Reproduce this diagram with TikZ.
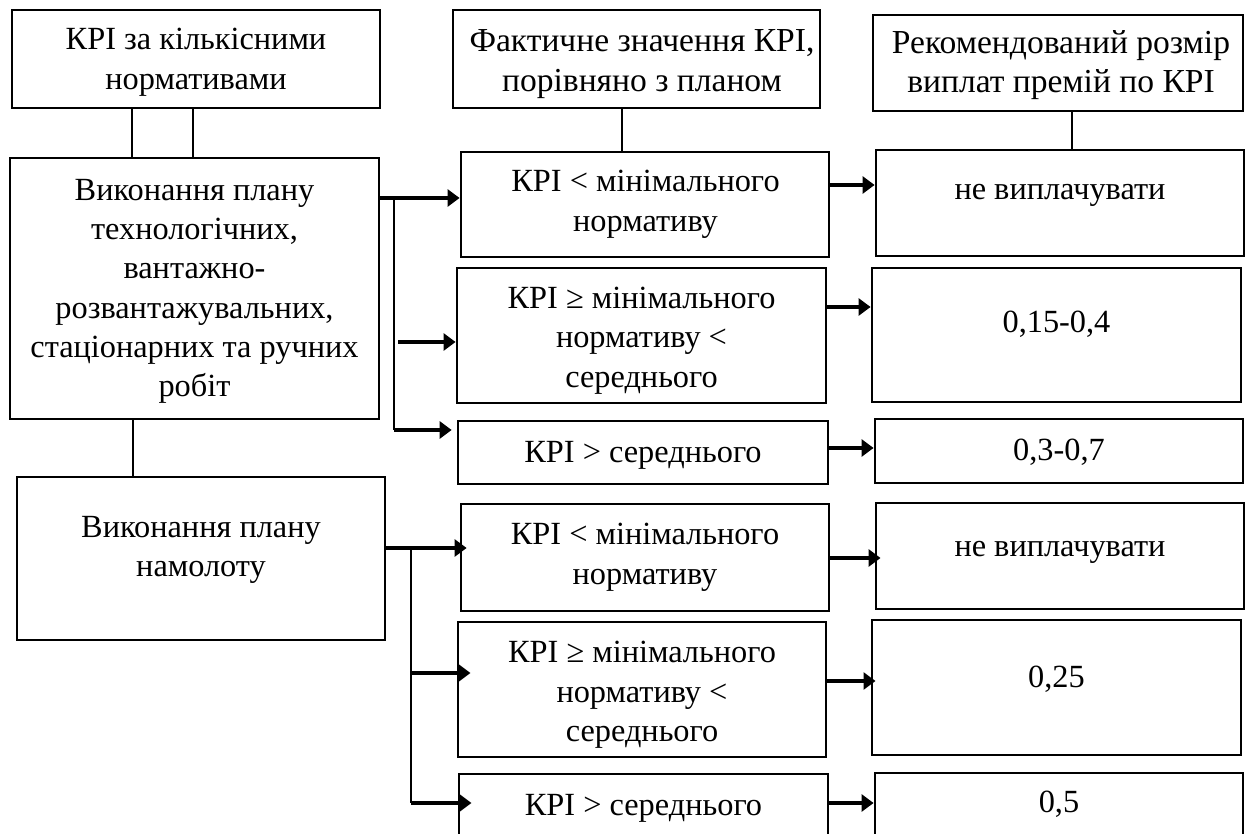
\documentclass[tikz,border=0pt]{standalone}
\usepackage{fontspec}
\setmainfont{Liberation Serif}
\usetikzlibrary{arrows.meta}
\newlength\pxu
\setlength\pxu{0.02cm}
\begin{document}
\begin{tikzpicture}[x=0.02cm,y=-0.02cm,
  box/.style={draw, line width=1.6pt, inner sep=0pt},
  txt/.style={align=center, inner sep=0pt, font=\fontsize{18.4}{22.4}\selectfont},
  hdr/.style={align=center, inner sep=0pt, font=\fontsize{19.1}{22.4}\selectfont},
  conn/.style={line width=0.7pt},
  arr/.style={line width=2.4pt, -{Triangle[length=6.8pt,width=9.6pt]}}]
\useasboundingbox (0,0) rectangle (1248,834);
\clip (0,0) rectangle (1248,834);
\fill[white] (0,0) rectangle (1248,834);

% header row
\node[box, minimum width=368\pxu, minimum height=98\pxu] (A) at (196,59) {};
\node[box, minimum width=367\pxu, minimum height=98\pxu] (D) at (636.5,59) {};
\node[box, minimum width=370\pxu, minimum height=96\pxu] (E) at (1058,63) {};
\node[txt] (tA) at (196,62.2) {КРІ за кількісними\\нормативами};
\node[hdr] (tD) at (642,64.2) {Фактичне значення КРІ,\\порівняно з планом};
\node[hdr] (tE) at (1061,64.9) {Рекомендований розмір\\виплат премій по КРІ};

% left column
\node[box, minimum width=369\pxu, minimum height=261\pxu] (B) at (194.5,288.5) {};
\node[box, minimum width=368\pxu, minimum height=163\pxu] (C) at (201,558.5) {};
\node[txt] (tB) at (194.5,291.3) {Виконання плану\\технологічних,\\вантажно-\\розвантажувальних,\\стаціонарних та ручних\\робіт};
\node[txt] (tC) at (201,549.7) {Виконання плану\\намолоту};

% middle column
\node[box, minimum width=368\pxu, minimum height=105\pxu] (F1) at (645,204.5) {};
\node[box, minimum width=369\pxu, minimum height=135\pxu] (F2) at (641.5,335.5) {};
\node[box, minimum width=370\pxu, minimum height=63\pxu] (F3) at (643,452.5) {};
\node[box, minimum width=368\pxu, minimum height=107\pxu] (F4) at (645,557.5) {};
\node[box, minimum width=368\pxu, minimum height=135\pxu] (F5) at (642,689.5) {};
\node[box, minimum width=369\pxu, minimum height=66\pxu] (F6) at (643.5,807) {};
\node[txt] (tF1) at (645.5,204.4) {КРІ < мінімального\\нормативу};
\node[txt] (tF2) at (641.5,340.4) {КРІ ≥ мінімального\\нормативу <\\середнього};
\node[txt, anchor=base] (tF3) at (643,462) {КРІ > середнього};
\node[txt] (tF4) at (645,557.4) {КРІ < мінімального\\нормативу};
\node[txt] (tF5) at (642,694.9) {КРІ ≥ мінімального\\нормативу <\\середнього};
\node[txt, anchor=base] (tF6) at (643.5,815) {КРІ > середнього};

% right column
\node[box, minimum width=368\pxu, minimum height=106\pxu] (G1) at (1060,203) {};
\node[box, minimum width=369\pxu, minimum height=134\pxu] (G2) at (1056.5,335) {};
\node[box, minimum width=368\pxu, minimum height=64\pxu] (G3) at (1059,451) {};
\node[box, minimum width=368\pxu, minimum height=106\pxu] (G4) at (1060,556) {};
\node[box, minimum width=369\pxu, minimum height=135\pxu] (G5) at (1056.5,687.5) {};
\node[box, minimum width=368\pxu, minimum height=67\pxu] (G6) at (1059,806.5) {};
\node[txt, anchor=base] (tG1) at (1060,200) {не виплачувати};
\node[txt, anchor=base] (tG2) at (1056.5,333) {0,15-0,4};
\node[txt, anchor=base] (tG3) at (1059,460) {0,3-0,7};
\node[txt, anchor=base] (tG4) at (1060,557) {не виплачувати};
\node[txt, anchor=base] (tG5) at (1056.5,687) {0,25};
\node[txt, anchor=base] (tG6) at (1059,812) {0,5};

% thin header connectors
\draw[conn] (A.south -| 132,0) -- (B.north -| 132,0);
\draw[conn] (A.south -| 193,0) -- (B.north -| 193,0);
\draw[conn] (D.south -| 622,0) -- (F1.north -| 622,0);
\draw[conn] (E.south -| 1072,0) -- (G1.north -| 1072,0);
\draw[conn] (B.south -| 133,0) -- (C.north -| 133,0);

% branch from B
\coordinate (jB) at (394,198);
\coordinate (jB2) at (398,342);
\coordinate (jB3) at (394,430);
\draw[arr] (B.east |- jB) -- (F1.west |- jB);
\draw[conn] (jB) -- (jB3);
\draw[arr] (jB2) -- (F2.west |- jB2);
\draw[arr, shorten >=2.8pt] (jB3) -- (F3.west |- jB3);

% branch from C
\coordinate (jC) at (411,548);
\coordinate (jC2) at (411,673);
\coordinate (jC3) at (411,803);
\draw[arr, shorten >=-4pt] (C.east |- jC) -- (F4.west |- jC);
\draw[conn] (jC) -- (jC3);
\draw[arr, shorten >=-7.9pt] (jC2) -- (F5.west |- jC2);
\draw[arr, shorten >=-7.9pt] (jC3) -- (F6.west |- jC3);

% middle to right
\draw[arr] (F1.east |- 0,185) -- (G1.west |- 0,185);
\draw[arr] (F2.east |- 0,307) -- (G2.west |- 0,307);
\draw[arr] (F3.east |- 0,448) -- (G3.west |- 0,448);
\draw[arr, shorten >=-3.4pt] (F4.east |- 0,558) -- (G4.west |- 0,558);
\draw[arr, shorten >=-2.8pt] (F5.east |- 0,681) -- (G5.west |- 0,681);
\draw[arr] (F6.east |- 0,803) -- (G6.west |- 0,803);
\end{tikzpicture}
\end{document}
